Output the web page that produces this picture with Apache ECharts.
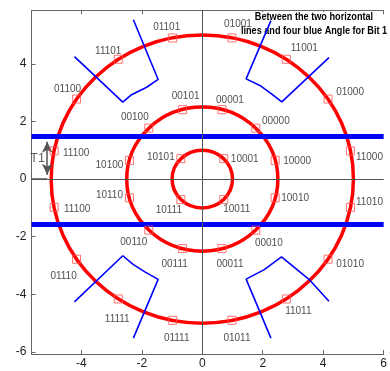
<!DOCTYPE html>
<html>
<head>
<meta charset="utf-8">
<script src="https://cdn.jsdelivr.net/npm/echarts@6/dist/echarts.min.js"></script>
<style>
  html, body { margin: 0; padding: 0; background: #fff; }
  #chart { width: 390px; height: 371px; }
</style>
</head>
<body>
<div id="chart"></div>
<script>
// ---- data -------------------------------------------------------------
// Outer ring points (radius 5)
const outerCodes = ['11000','01000','11001','01001','01101','11101','01100','11100',
                    '11100','01110','11111','01111','01011','11011','01010','11010'];
const outerX = [4.90, 4.16, 2.78, 0.98, -0.98, -2.78, -4.16, -4.90,
                -4.90, -4.16, -2.78, -0.98, 0.98, 2.78, 4.16, 4.90];
const outerY = [0.98, 2.78, 4.16, 4.90, 4.90, 4.16, 2.78, 0.98,
                -0.98, -2.78, -4.16, -4.90, -4.90, -4.16, -2.78, -0.98];

// Middle ring points (radius 2.5)
const middleCodes = ['10000','00000','00001','00101','00100','10100',
                     '10110','00110','00111','00011','00010','10010'];
const middleX = [2.41, 1.77, 0.65, -0.65, -1.77, -2.41, -2.41, -1.77, -0.65, 0.65, 1.77, 2.41];
const middleY = [0.65, 1.77, 2.41, 2.41, 1.77, 0.65, -0.65, -1.77, -2.41, -2.41, -1.77, -0.65];

// Inner ring points (radius 1)
const innerCodes = ['10001','10101','10111','10011'];
const innerX = [0.71, -0.71, -0.71, 0.71];
const innerY = [0.71, 0.71, -0.71, -0.71];

// Ring radii
const ringRadii = [1, 2.5, 5];

// Decision thresholds for bit 1
const thresholdY = [1.5, -1.57];

// Angular decision wedges (polylines)
const wedgeUpperLeft  = [[-4.23, 4.25], [-2.63, 2.67], [-2.34, 2.93], [-1.84, 3.19], [-1.46, 3.46], [-2.28, 5.53]];
const wedgeUpperRight = [[2.27, 5.50], [1.45, 3.48], [1.94, 3.23], [2.30, 2.95], [2.63, 2.68], [4.19, 4.22]];
const wedgeLowerLeft  = [[-4.23, -4.26], [-2.63, -2.66], [-2.30, -2.95], [-1.90, -3.22], [-1.46, -3.48], [-2.28, -5.52]];
const wedgeLowerRight = [[4.19, -4.24], [3.55, -3.50], [2.62, -2.70], [2.05, -3.14], [1.45, -3.47], [2.27, -5.52]];

// T1 spacing marker
const t1Span = [0, 1.5];
const t1X = -5.13;

// Tick labels
const xTicks = [-4, -2, 0, 2, 4, 6];
const yTicks = [-6, -4, -2, 0, 2, 4];

// ---- layout (pixel offsets of each code label from its marker) ----------
const outerLabelOffsets = [[19, 6], [22, -7], [18, -11], [6, -14], [-6, -11], [-10, -8], [-9, -10], [22, 2],
                           [23, 2], [-13, 17], [-1, 20], [4, 18], [5, 18], [12, 12], [22, 5], [19, -5]];
const middleLabelOffsets = [[22, 1], [20, -7], [8, -9], [3, -13], [-14, -11], [-20, 5],
                            [-20, -3], [-15, 12], [-8, 16], [8, 16], [13, 13], [20, 0]];
const innerLabelOffsets = [[21, 1], [-20, -1], [-12, 11], [13, 10]];

// ---- build ------------------------------------------------------------
function pointItems(xs, ys, codes, offsets) {
  return xs.map((x, i) => ({
    value: [x, ys[i]],
    code: codes[i],
    label: { offset: offsets[i] }
  }));
}
const pointData = [].concat(
  pointItems(outerX, outerY, outerCodes, outerLabelOffsets),
  pointItems(middleX, middleY, middleCodes, middleLabelOffsets),
  pointItems(innerX, innerY, innerCodes, innerLabelOffsets)
);

const axisGray = '#666';
const labelFont = '"Liberation Sans", Arial, sans-serif';

function wedgeSeries(points) {
  return {
    type: 'line', data: points, symbol: 'none', silent: true, z: 4,
    lineStyle: { color: '#0000ff', width: 1.6 }
  };
}

const chart = echarts.init(document.getElementById('chart'), null, { renderer: 'canvas' });
chart.setOption({
  animation: false,
  backgroundColor: '#fff',
  grid: { left: 31.5, right: 5.5, top: 10.3, bottom: 17, containLabel: false },
  xAxis: [{
    type: 'value', min: -5.65, max: 6, position: 'bottom',
    axisLine: { onZero: false, lineStyle: { color: axisGray, width: 1 } },
    axisTick: { inside: true, length: 4, customValues: xTicks, lineStyle: { color: axisGray } },
    axisLabel: { customValues: xTicks, color: '#222', fontSize: 12, margin: 4, fontFamily: labelFont },
    splitLine: { show: false }
  }, {
    type: 'value', min: -5.65, max: 6, position: 'top',
    axisLine: { onZero: false, lineStyle: { color: axisGray, width: 1 } },
    axisTick: { inside: true, length: 4, customValues: xTicks, lineStyle: { color: axisGray } },
    axisLabel: { show: false },
    splitLine: { show: false }
  }],
  yAxis: {
    type: 'value', min: -6.07, max: 5.86,
    axisLine: { show: true, onZero: false, lineStyle: { color: axisGray, width: 1 } },
    axisTick: { show: true, inside: true, length: 4, customValues: yTicks, lineStyle: { color: axisGray } },
    axisLabel: { customValues: yTicks, color: '#222', fontSize: 12, margin: 5, fontFamily: labelFont },
    splitLine: { show: false }
  },
  graphic: [
    { type: 'text', x: 314, y: 17.5, z: 1, scaleX: 0.87, originX: 0, originY: 0,
      style: { text: 'Between the two horizontal', font: 'bold 10.5px ' + labelFont,
               fill: '#000', align: 'center', verticalAlign: 'middle', backgroundColor: '#fff' } },
    { type: 'text', x: 314, y: 31, z: 1, scaleX: 0.87, originX: 0, originY: 0,
      style: { text: 'lines and four blue Angle for Bit 1', font: 'bold 10.5px ' + labelFont,
               fill: '#000', align: 'center', verticalAlign: 'middle' } }
  ],
  series: [
    // thick threshold lines
    {
      type: 'line', data: [], z: 1, silent: true,
      markLine: {
        silent: true, symbol: 'none', label: { show: false },
        lineStyle: { color: '#0000ff', width: 5, type: 'solid' },
        data: thresholdY.map(v => ({ yAxis: v }))
      }
    },
    // axes through the origin
    {
      type: 'line', data: [], z: 1, silent: true,
      markLine: {
        silent: true, symbol: 'none', label: { show: false },
        lineStyle: { color: '#555', width: 1, type: 'solid' },
        data: [{ xAxis: 0 }, { yAxis: 0 }]
      }
    },
    // rings
    {
      type: 'custom', coordinateSystem: 'cartesian2d', silent: true, z: 3,
      data: ringRadii.map(r => [0, 0, r]),
      encode: { x: 0, y: 1 },
      renderItem: function (params, api) {
        const c = api.coord([api.value(0), api.value(1)]);
        const s = api.size([api.value(2), api.value(2)]);
        return {
          type: 'ellipse',
          shape: { cx: c[0], cy: c[1], rx: s[0], ry: s[1] },
          style: { fill: 'none', stroke: '#ff0000', lineWidth: 3.5 }
        };
      }
    },
    wedgeSeries(wedgeUpperLeft),
    wedgeSeries(wedgeUpperRight),
    wedgeSeries(wedgeLowerLeft),
    wedgeSeries(wedgeLowerRight),
    // T1 spacing arrow
    {
      type: 'line', data: [], z: 5, silent: true,
      markLine: {
        silent: true, symbol: ['arrow', 'arrow'], symbolSize: [8, 11],
        label: { show: false },
        lineStyle: { color: '#555', width: 1.5, type: 'solid' },
        data: [
          [{ coord: [t1X, t1Span[1] - 0.2] }, { coord: [t1X, t1Span[0] + 0.15] }],
          [{ coord: [-5.65, 0], symbol: 'none' }, { coord: [t1X, 0], symbol: 'none' }]
        ]
      }
    },
    {
      type: 'scatter', z: 5, silent: true, symbolSize: 0,
      data: [{ value: [-5.45, 0.72] }],
      label: { show: true, position: 'inside', formatter: 'T1', color: '#333',
               fontSize: 12.5, fontFamily: labelFont }
    },
    // constellation points
    {
      type: 'scatter', z: 6, silent: true,
      symbol: 'rect', symbolSize: 8,
      itemStyle: { color: 'rgba(255,255,255,0)', borderColor: '#ff5050', borderWidth: 1 },
      data: pointData,
      label: {
        show: true, position: 'inside', color: '#222', fontSize: 10, fontFamily: labelFont,
        formatter: p => p.data.code
      }
    }
  ]
});
</script>
</body>
</html>
